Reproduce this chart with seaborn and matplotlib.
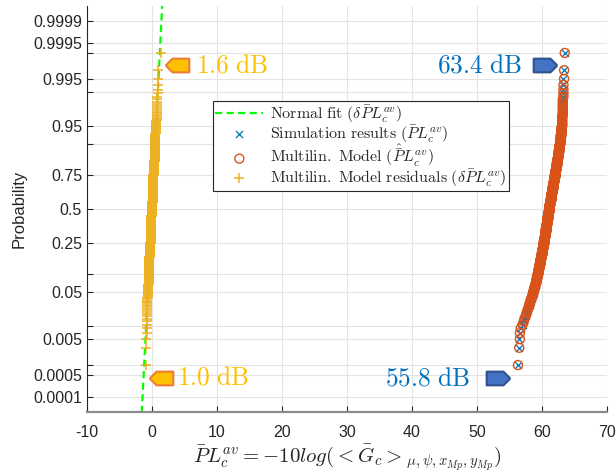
from statistics import NormalDist

import matplotlib
matplotlib.use("Agg")
import matplotlib.pyplot as plt
import numpy as np
import seaborn as sns

# --- data (sorted samples as value levels + counts, N = 500) ---
sim_levels = [56.3, 56.5, 56.6, 56.8, 57.0, 57.2, 57.3, 57.5, 57.6, 57.7, 57.8, 57.9,
              58.0, 58.1, 58.2, 58.3, 58.4, 58.5, 58.6, 58.7, 58.8, 58.9, 59.0, 59.1,
              59.2, 59.3, 59.4, 59.5, 59.6, 59.7, 59.8, 59.9, 60.0, 60.1, 60.2, 60.3,
              60.4, 60.5, 60.6, 60.7, 60.8, 60.9, 61.0, 61.1, 61.2, 61.3, 61.4, 61.5,
              61.6, 61.7, 61.8, 61.9, 62.0, 62.1, 62.2, 62.3, 62.4, 62.5, 62.6, 62.7,
              62.8, 62.9, 63.0, 63.1, 63.2, 63.3, 63.4, 63.5]
sim_counts = [1, 2, 1, 1, 1, 1, 1, 1, 1, 1, 1, 1,
              1, 1, 2, 2, 1, 2, 2, 3, 2, 3, 3, 4,
              4, 5, 5, 6, 7, 7, 8, 8, 9, 10, 11, 12,
              13, 14, 15, 16, 16, 16, 16, 16, 15, 15, 15, 14,
              14, 13, 13, 13, 12, 12, 11, 11, 10, 10, 9, 9,
              8, 8, 9, 10, 9, 5, 1, 1]
model_levels = [56.3, 56.5, 56.6, 56.7, 57.0, 57.2, 57.3, 57.5, 57.6, 57.7, 57.8, 57.9,
                58.0, 58.1, 58.2, 58.3, 58.4, 58.5, 58.6, 58.7, 58.8, 58.9, 59.0, 59.1,
                59.2, 59.3, 59.4, 59.5, 59.6, 59.7, 59.8, 59.9, 60.0, 60.1, 60.2, 60.3,
                60.4, 60.5, 60.6, 60.7, 60.8, 60.9, 61.0, 61.1, 61.2, 61.3, 61.4, 61.5,
                61.6, 61.7, 61.8, 61.9, 62.0, 62.1, 62.2, 62.3, 62.4, 62.5, 62.6, 62.7,
                62.8, 62.9, 63.0, 63.1, 63.2, 63.3, 63.4, 63.5]
model_counts = [1, 1, 2, 1, 1, 1, 1, 1, 1, 1, 1, 1,
                1, 2, 1, 2, 1, 2, 2, 3, 2, 3, 3, 4,
                4, 5, 5, 6, 7, 7, 8, 8, 9, 10, 11, 12,
                13, 14, 15, 16, 16, 16, 16, 16, 15, 15, 15, 14,
                14, 13, 13, 13, 12, 12, 11, 11, 10, 10, 9, 9,
                8, 8, 9, 10, 9, 4, 2, 1]
resid_levels = [-0.9, -0.8, -0.7, -0.6, -0.5, -0.4, -0.3, -0.2, -0.1, 0.0, 0.1,
                0.2, 0.3, 0.4, 0.5, 0.6, 0.7, 0.8, 0.9, 1.0, 1.4]
resid_counts = [3, 8, 9, 14, 22, 30, 39, 46, 52, 54, 52,
                46, 39, 30, 22, 14, 9, 5, 3, 2, 1]

# normal fit of the residuals (mean, std in dB)
fit_mu = 0.0
fit_sigma = 0.39

# call-outs: tag centre, label anchor
callout_text = ["1.6 dB", "1.0 dB", "63.4 dB", "55.8 dB"]
callout_x = [3.9, 1.4, 60.5, 53.3]
callout_p = [0.9978, 0.00042, 0.9978, 0.0004]
label_x = [6.7, 3.9, 57.0, 48.9]

prob_ticks = [0.0001, 0.0005, 0.001, 0.005, 0.01, 0.05, 0.1, 0.25, 0.5, 0.75,
              0.9, 0.95, 0.99, 0.995, 0.999, 0.9995, 0.9999]
prob_labels = ["0.0001", "0.0005", "", "0.005", "", "0.05", "", "0.25", "0.5", "0.75",
               "", "0.95", "", "0.995", "", "0.9995", "0.9999"]

_nd = NormalDist()


def prob_to_z(p):
    p = np.clip(np.asarray(p, dtype=float), 1e-12, 1 - 1e-12)
    return np.vectorize(_nd.inv_cdf, otypes=[float])(p)


def z_to_prob(z):
    return np.vectorize(_nd.cdf, otypes=[float])(np.asarray(z, dtype=float))


def plotting_positions(levels, counts):
    vals = np.repeat(levels, counts)
    n = len(vals)
    return vals, (np.arange(1, n + 1) - 0.5) / n


sns.set_style("ticks")
plt.rcParams["font.family"] = ["Liberation Sans", "DejaVu Sans"]
plt.rcParams["mathtext.fontset"] = "cm"
plt.rcParams["axes.unicode_minus"] = False

fig = plt.figure(figsize=(6.16, 4.72), dpi=100)
ax = fig.add_axes([0.1412, 0.1271, 0.8442, 0.8602])

fit_p = np.array([1e-5, 1 - 1e-5])
fit_x = fit_mu + fit_sigma * prob_to_z(fit_p)
sns.lineplot(x=fit_x, y=fit_p, ax=ax, color="#00ff00", lw=1.6,
             linestyle=(0, (3.2, 2.0)), label=r"$\mathrm{Normal\ fit\ }(\delta\bar{P}L_c^{av})$")

sx, sp = plotting_positions(sim_levels, sim_counts)
mx, mp = plotting_positions(model_levels, model_counts)
rx, rp = plotting_positions(resid_levels, resid_counts)

sns.scatterplot(x=sx, y=sp, ax=ax, marker="x", color="#0072BD", s=26, linewidth=0.9,
                label=r"$\mathrm{Simulation\ results\ }(\bar{P}L_c^{av})$", zorder=3)
sns.scatterplot(x=mx, y=mp, ax=ax, marker="o", facecolor="none", edgecolor="#D95319",
                s=42, linewidth=1.0,
                label=r"$\mathrm{Multilin.\ Model\ }(\hat{\bar{P}}L_c^{av})$", zorder=4)
sns.scatterplot(x=rx, y=rp, ax=ax, marker="+", color="#EDB120", s=55, linewidth=1.1,
                label=r"$\mathrm{Multilin.\ Model\ residuals\ }(\delta\bar{P}L_c^{av})$", zorder=3)

ax.set_yscale("function", functions=(prob_to_z, z_to_prob))
ax.set_ylim(z_to_prob(-4.02), z_to_prob(4.02))
ax.set_xlim(-10, 70)
ax.set_xticks(range(-10, 71, 10))
ax.set_yticks(prob_ticks)
ax.set_yticklabels(prob_labels)
ax.minorticks_off()

ax.grid(True, color="#e3e3e3", lw=0.8)
ax.set_axisbelow(True)
for side in ["top", "right"]:
    ax.spines[side].set_visible(False)
ax.spines["left"].set_color("#262626")
ax.spines["left"].set_linewidth(0.8)
ax.spines["bottom"].set_color("#8c8c8c")
ax.spines["bottom"].set_linewidth(1.6)
ax.tick_params(direction="in", length=4, width=0.8, colors="#262626", labelsize=11.5)
ax.tick_params(axis="x", pad=9.5)

ax.set_ylabel("Probability", fontsize=12, color="#262626", labelpad=5)
ax.set_xlabel(r"$\bar{P}L_c^{av} = -10log(<\bar{G}_c>_{\mu,\psi,x_{Mp},y_{Mp}})$",
              fontsize=15, color="#262626", labelpad=1.5)

# call-out tags and labels
tag_left = [(-1, 0), (-0.42, 0.58), (1, 0.58), (1, -0.58), (-0.42, -0.58), (-1, 0)]
tag_right = [(x * -1, y) for x, y in tag_left]
for i, (txt, x, p, lx) in enumerate(zip(callout_text, callout_x, callout_p, label_x)):
    label = r"$\mathrm{%s}$" % txt.replace(" ", r"\ ")
    if i < 2:
        ax.plot([x], [p], marker=tag_left, ms=17, mfc="#FFC000", mec="#ED7D31", mew=1.5,
                ls="none", zorder=5)
        ax.text(lx, p, label, color="#FFC000", fontsize=18.3, ha="left", va="center")
    else:
        ax.plot([x], [p], marker=tag_right, ms=17, mfc="#4472C4", mec="#2F528F", mew=1.5,
                ls="none", zorder=5)
        ax.text(lx, p, label, color="#0070C0", fontsize=18.3, ha="right", va="center")

leg = ax.legend(loc="upper left", bbox_to_anchor=(213 / 616, 1 - 101 / 472),
                bbox_transform=fig.transFigure, borderaxespad=0, fontsize=11.5,
                frameon=True, fancybox=False, edgecolor="#262626", framealpha=1,
                handlelength=3.0, borderpad=0.15, labelspacing=-0.12, handletextpad=0.45)
leg.get_frame().set_linewidth(0.8)

fig.savefig("out.png", dpi=100)
